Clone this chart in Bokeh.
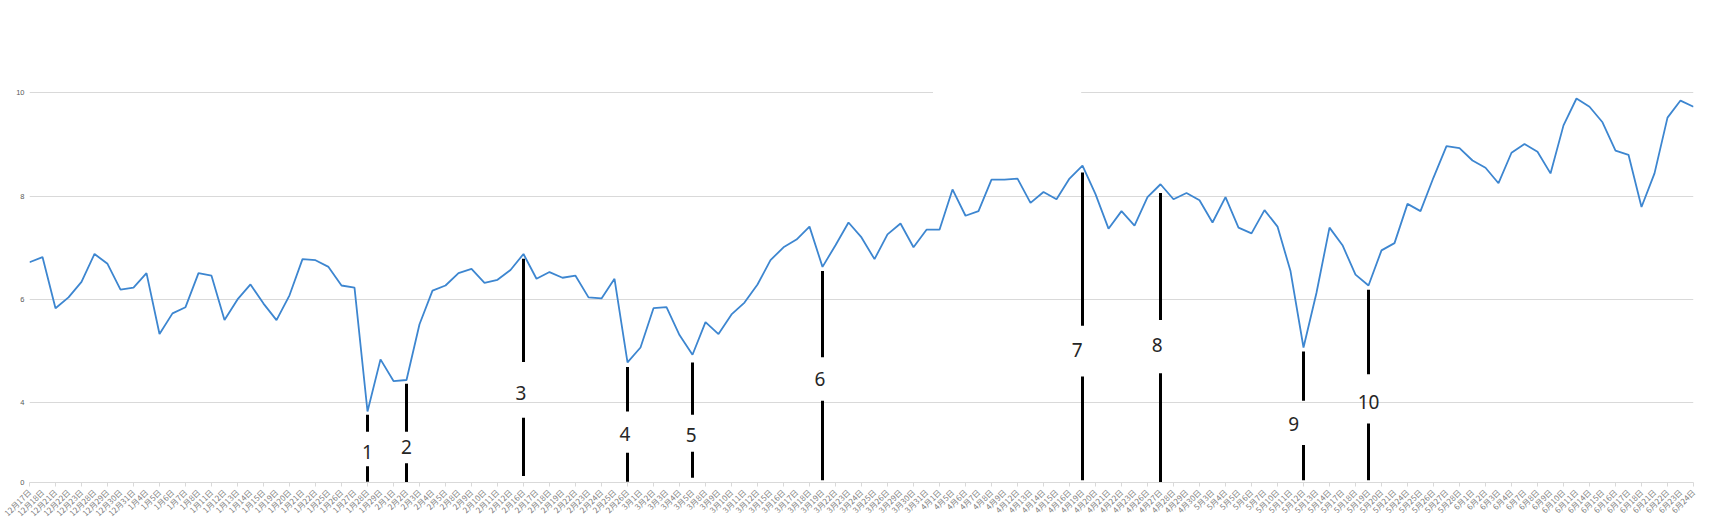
import math
from bokeh.plotting import figure
from bokeh.models import Range1d, FixedTicker, BoxAnnotation, ColumnDataSource
from bokeh.core.properties import value
from bokeh.embed import file_html
from bokeh.resources import INLINE

# ---- data ----
dates = [
    "12月17日", "12月18日", "12月21日", "12月22日", "12月23日", "12月28日", "12月29日", "12月30日", "12月31日",
    "1月4日", "1月5日", "1月6日", "1月7日", "1月8日", "1月11日", "1月12日", "1月13日", "1月14日", "1月15日",
    "1月19日", "1月20日", "1月21日", "1月22日", "1月25日", "1月26日", "1月27日", "1月28日", "1月29日",
    "2月1日", "2月2日", "2月3日", "2月4日", "2月5日", "2月8日", "2月9日", "2月10日", "2月11日", "2月12日",
    "2月16日", "2月17日", "2月18日", "2月19日", "2月22日", "2月23日", "2月24日", "2月25日", "2月26日",
    "3月1日", "3月2日", "3月3日", "3月4日", "3月5日", "3月8日", "3月9日", "3月10日", "3月11日", "3月12日",
    "3月15日", "3月16日", "3月17日", "3月18日", "3月19日", "3月22日", "3月23日", "3月24日", "3月25日", "3月26日",
    "3月29日", "3月30日", "3月31日",
    "4月1日", "4月5日", "4月6日", "4月7日", "4月8日", "4月9日", "4月12日", "4月13日", "4月14日", "4月15日", "4月16日",
    "4月19日", "4月20日", "4月21日", "4月22日", "4月23日", "4月26日", "4月27日", "4月28日", "4月29日", "4月30日",
    "5月3日", "5月4日", "5月5日", "5月6日", "5月7日", "5月10日", "5月11日", "5月12日", "5月13日", "5月14日",
    "5月17日", "5月18日", "5月19日", "5月20日", "5月21日", "5月24日", "5月25日", "5月26日", "5月27日", "5月28日",
    "6月1日", "6月2日", "6月3日", "6月4日", "6月7日", "6月8日", "6月9日", "6月10日", "6月11日",
    "6月14日", "6月15日", "6月16日", "6月17日", "6月18日", "6月21日", "6月22日", "6月23日", "6月24日",
]

values = [
    6.72, 6.82, 5.83, 6.04, 6.34, 6.88, 6.69, 6.19, 6.23, 6.51,
    5.33, 5.73, 5.85, 6.51, 6.46, 5.60, 6.00, 6.29, 5.92, 5.60,
    6.08, 6.78, 6.76, 6.63, 6.27, 6.23, 3.83, 4.84, 4.42, 4.44,
    5.52, 6.17, 6.27, 6.51, 6.59, 6.32, 6.38, 6.57, 6.88, 6.40,
    6.53, 6.42, 6.46, 6.04, 6.02, 6.40, 4.78, 5.07, 5.83, 5.85,
    5.31, 4.93, 5.56, 5.33, 5.71, 5.94, 6.29, 6.76, 7.01, 7.16,
    7.41, 6.63, 7.05, 7.49, 7.20, 6.78, 7.26, 7.47, 7.01, 7.35,
    7.35, 8.13, 7.62, 7.71, 8.32, 8.32, 8.34, 7.87, 8.08, 7.94,
    8.34, 8.59, 8.04, 7.37, 7.71, 7.43, 7.98, 8.23, 7.94, 8.06,
    7.92, 7.49, 7.98, 7.39, 7.28, 7.73, 7.41, 6.55, 5.07, 6.13,
    7.39, 7.05, 6.48, 6.27, 6.95, 7.09, 7.85, 7.71, 8.36, 8.97,
    8.93, 8.69, 8.55, 8.25, 8.84, 9.01, 8.86, 8.44, 9.37, 9.89,
    9.73, 9.43, 8.88, 8.80, 7.79, 8.44, 9.52, 9.85, 9.73,
]

y_ticks = [4, 6, 8, 10]
y_zero_label = "0"

# numbered annotations: category index of each mark
mark_names = ["1", "2", "3", "4", "5", "6", "7", "8", "9", "10"]
mark_index = [26, 29, 38, 46, 51, 61, 81, 87, 98, 103]

# ---- annotation geometry (in axis value space) ----
Y0 = 2.456  # value at the axis line, labelled "0"
mark_top = [3.77, 4.37, 6.79, 4.69, 4.78, 6.55, 8.46, 8.06, 4.99, 6.19]
mark_gap_hi = [3.44, 3.44, 4.79, 3.83, 3.77, 4.88, 5.49, 5.60, 4.04, 4.55]
mark_text_y = [3.04, 3.15, 4.19, 3.39, 3.37, 4.46, 5.03, 5.12, 3.58, 4.02]
mark_text_dx = [0.0, 0.0, -0.2, -0.2, -0.1, -0.2, -0.4, -0.25, -0.75, 0.0]
mark_gap_lo = [2.77, 2.83, 3.71, 3.03, 3.05, 4.04, 4.51, 4.57, 3.18, 3.60]
mark_bot = [2.47, 2.44, 2.58, 2.47, 2.55, 2.50, 2.50, 2.44, 2.50, 2.50]

n = len(values)
idx = list(range(n))

p = figure(
    width=1716, height=525,
    output_backend="svg", toolbar_location=None,
    x_range=Range1d(0, n - 1), y_range=Range1d(Y0, 10.2),
    min_border_left=29, min_border_right=23, min_border_top=82, min_border_bottom=41,
)
p.outline_line_color = None
p.background_fill_color = "white"
p.border_fill_color = "white"

# grid
p.xgrid.visible = False
p.ygrid.ticker = FixedTicker(ticks=y_ticks)
p.ygrid.grid_line_color = "#d9d9d9"
p.ygrid.grid_line_width = 1

# y axis
p.yaxis.ticker = FixedTicker(ticks=[Y0] + y_ticks)
p.yaxis.major_label_overrides = {Y0: y_zero_label}
p.yaxis.axis_line_color = None
p.yaxis.major_tick_line_color = None
p.yaxis.major_tick_out = 0
p.yaxis.minor_tick_line_color = None
p.yaxis.major_label_text_font_size = "7.5px"
p.yaxis.major_label_text_color = "#595959"
p.yaxis.major_label_text_font = "Liberation Sans"
p.yaxis.major_label_standoff = 5

# x axis
p.xaxis.ticker = FixedTicker(ticks=idx, minor_ticks=idx[::2])
p.xaxis.major_label_overrides = {i: d for i, d in zip(idx, dates)}
p.xaxis.major_label_orientation = math.pi / 4
p.xaxis.major_tick_line_color = None
p.xaxis.major_tick_out = 0
p.xaxis.minor_tick_line_color = "#d9d9d9"
p.xaxis.minor_tick_in = 0
p.xaxis.minor_tick_out = 4
p.xaxis.axis_line_color = "#d9d9d9"
p.xaxis.major_label_text_font_size = "8px"
p.xaxis.major_label_text_color = "#808080"
p.xaxis.major_label_text_font = "Noto Sans CJK SC"
p.xaxis.major_label_standoff = 4

# gap in the top gridline
p.add_layout(BoxAnnotation(left=69.5, right=80.9, bottom=9.95, top=10.05,
                           fill_color="white", fill_alpha=1.0, line_color=None))

# series
p.line(x=idx, y=values, line_color="#3d86d0", line_width=1.8)

# numbered vertical marks
src = ColumnDataSource(dict(
    x=mark_index, top=mark_top, ghi=mark_gap_hi, glo=mark_gap_lo, bot=mark_bot,
    tx=[i + d for i, d in zip(mark_index, mark_text_dx)], ty=mark_text_y, name=mark_names,
))
p.segment(x0="x", y0="top", x1="x", y1="ghi", source=src, line_color="black", line_width=3, line_cap="butt")
p.segment(x0="x", y0="glo", x1="x", y1="bot", source=src, line_color="black", line_width=3, line_cap="butt")
p.text(x="tx", y="ty", text="name", source=src, text_align="center", text_baseline="middle",
       text_font=value("Noto Sans"), text_font_size="19px", text_color="#262626")

open("out.html", "w").write(file_html(p, INLINE))
